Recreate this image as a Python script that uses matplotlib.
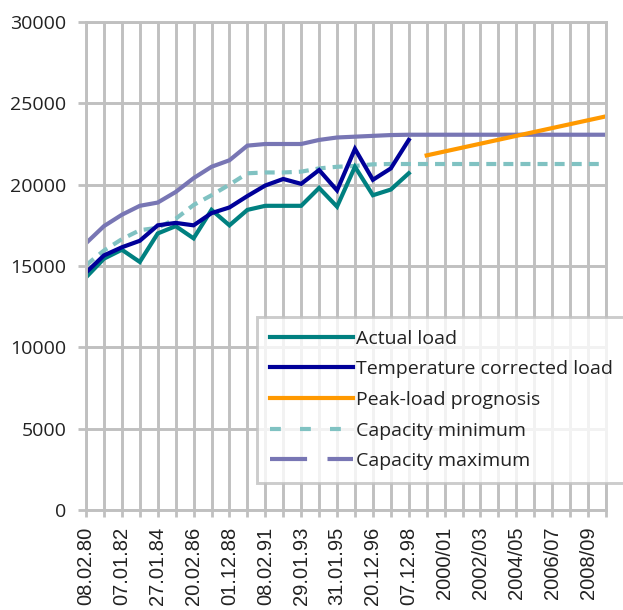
# Peak load vs. capacity, historic values 1980-1998 and prognosis up to 2009/10
import numpy as np
import matplotlib
matplotlib.use("Agg")
import matplotlib.pyplot as plt
from matplotlib.lines import Line2D

# --- data (MW) ---
n_categories = 30
tick_labels = ["08.02.80", "07.01.82", "27.01.84", "20.02.86", "01.12.88",
               "08.02.91", "29.01.93", "31.01.95", "20.12.96", "07.12.98",
               "2000/01", "2002/03", "2004/05", "2006/07", "2008/09"]

actual_load = [14300, 15450, 16000, 15250, 17000, 17450, 16700, 18450, 17500, 18450,
               18700, 18700, 18700, 19800, 18650, 21100, 19350, 19700, 20700]
temp_corrected = [14600, 15650, 16150, 16550, 17500, 17650, 17500, 18250, 18600, 19300,
                  19950, 20350, 20050, 20900, 19650, 22200, 20300, 21000, 22750]
peak_prognosis = [21800, 22040, 22280, 22520, 22760, 23000, 23240, 23480, 23720, 23960, 24200]
capacity_min = [15050, 15950, 16650, 17200, 17350, 17900, 18750, 19350, 20000, 20700,
                20750, 20750, 20800, 21000, 21100, 21150, 21250, 21270, 21270, 21270,
                21270, 21270, 21270, 21270, 21270, 21270, 21270, 21270, 21270, 21270]
capacity_max = [16400, 17450, 18150, 18700, 18900, 19550, 20400, 21100, 21500, 22400,
                22500, 22500, 22500, 22750, 22900, 22950, 23000, 23050, 23070, 23070,
                23070, 23070, 23070, 23070, 23070, 23070, 23070, 23070, 23070, 23070]

C_ACTUAL = "#008080"
C_TEMP = "#000099"
C_PEAK = "#FF9900"
C_MIN = "#80C2C2"
C_MAX = "#7876B4"
C_GRID = "#C0C0C0"
LW = 3.0

fig = plt.figure(figsize=(6.23, 6.10), dpi=100)
ax = fig.add_axes([86 / 623, 1 - 510 / 610, 520 / 623, 488 / 610])

x_hist = np.arange(len(actual_load))
x_peak = np.arange(len(actual_load), len(actual_load) + len(peak_prognosis))
x_cap = np.arange(len(capacity_min))

ax.plot(x_cap, capacity_max, color=C_MAX, lw=LW, solid_joinstyle="miter")
ax.plot(x_cap, capacity_min, color=C_MIN, lw=LW, dashes=(2.4, 1.7), dash_capstyle="butt")
ax.plot(x_peak, peak_prognosis, color=C_PEAK, lw=LW)
ax.plot(x_hist, actual_load, color=C_ACTUAL, lw=LW, solid_joinstyle="miter")
ax.plot(x_hist, temp_corrected, color=C_TEMP, lw=LW, solid_joinstyle="miter")

ax.set_xlim(0, n_categories - 1)
ax.set_ylim(0, 30000)
ax.set_yticks(np.arange(0, 30001, 5000))
ax.set_xticks(np.arange(n_categories), minor=True)
ax.set_xticks(np.arange(0, n_categories, 2))
ax.set_xticklabels(tick_labels, rotation=90, family="Liberation Sans", fontsize=14.5)
for lab in ax.get_yticklabels():
    lab.set_family("Open Sans")
    lab.set_fontsize(14)
    lab.set_color("#222222")
for lab in ax.get_xticklabels():
    lab.set_color("#222222")

ax.grid(True, which="both", color=C_GRID, lw=2.1)
ax.set_axisbelow(True)
for side in ["left", "bottom", "top", "right"]:
    ax.spines[side].set_color(C_GRID)
    ax.spines[side].set_linewidth(2.1)
ax.tick_params(axis="both", which="both", color=C_GRID, width=2, direction="out")
ax.tick_params(axis="y", length=6, pad=8)
ax.tick_params(axis="x", which="both", length=5, pad=7)

handles = [
    Line2D([], [], color=C_ACTUAL, lw=LW),
    Line2D([], [], color=C_TEMP, lw=LW),
    Line2D([], [], color=C_PEAK, lw=LW),
    Line2D([], [], color=C_MIN, lw=LW, dashes=(2.6, 4.6), dash_capstyle="butt"),
    Line2D([], [], color=C_MAX, lw=LW, dashes=(8.9, 4.9), dash_capstyle="butt"),
]
labels = ["Actual load", "Temperature corrected load", "Peak-load prognosis",
          "Capacity minimum", "Capacity maximum"]
leg = fig.legend(handles, labels, loc="upper left",
                 bbox_to_anchor=(257 / 623, 1 - 317 / 610),
                 prop={"family": "Open Sans", "size": 14},
                 frameon=True, fancybox=False, borderaxespad=0,
                 handlelength=4.3, handletextpad=0.15, labelspacing=0.65,
                 borderpad=0.65)
leg.get_frame().set_edgecolor(C_GRID)
leg.get_frame().set_linewidth(2.1)
for t in leg.get_texts():
    t.set_color("#222222")

fig.savefig("out.png", dpi=100)
